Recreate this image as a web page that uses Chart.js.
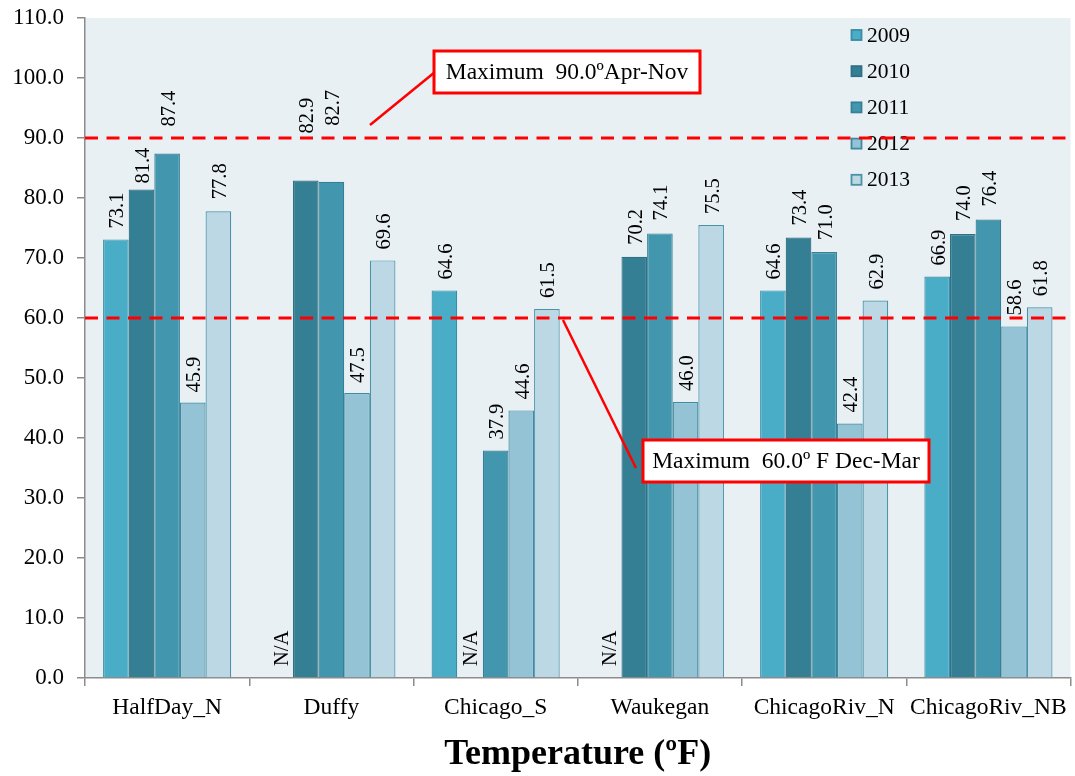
<!DOCTYPE html>
<html>
<head>
<meta charset="utf-8">
<script src="https://cdn.jsdelivr.net/npm/chart.js@4.4.1/dist/chart.umd.min.js"></script>
<style>
  html, body { margin: 0; padding: 0; background: #ffffff; }
  #wrap { width: 1075px; height: 776px; position: relative; }
</style>
</head>
<body>
<div id="wrap"><canvas id="c" width="1075" height="776"></canvas></div>
<script>
const categories = ['HalfDay_N', 'Duffy', 'Chicago_S', 'Waukegan', 'ChicagoRiv_N', 'ChicagoRiv_NB'];
const seriesNames = ['2009', '2010', '2011', '2012', '2013'];
const values2009 = [73.1, null, 64.6, null, 64.6, 66.9];
const values2010 = [81.4, 82.9, null, 70.2, 73.4, 74.0];
const values2011 = [87.4, 82.7, 37.9, 74.1, 71.0, 76.4];
const values2012 = [45.9, 47.5, 44.6, 46.0, 42.4, 58.6];
const values2013 = [77.8, 69.6, 61.5, 75.5, 62.9, 61.8];
const yTicksMin = 0, yTicksMax = 110, yTickStep = 10;
const limitLines = [90, 60];
const callout1Text = 'Maximum  90.0\u00BAApr-Nov';
const callout2Text = 'Maximum  60.0\u00BA F Dec-Mar';
const axisTitle = 'Temperature (\u00BAF)';
const missingText = 'N/A';

// extra upward label nudges (px) for the few labels moved by hand in the original
const labelNudge2009 = [0, 0, 0, 0, 0, 0];
const labelNudge2010 = [-5, 36, 0, 1, 1, 2];
const labelNudge2011 = [16, 45, 0, 2, 1, 2];
const labelNudge2012 = [-1, -1, 0, 0, 0, 0];
const labelNudge2013 = [1, 0, 0, 0, 0, 0];

const colors = ['#4aadc7', '#357f94', '#4297af', '#93c3d5', '#bcd8e4'];
const borders = ['#3a8da5', '#2f7084', '#377f94', '#3f8aa1', '#4a92a8'];
const serif = "'Liberation Serif', 'Times New Roman', serif";

const allValues = [values2009, values2010, values2011, values2012, values2013];
const allNudges = [labelNudge2009, labelNudge2010, labelNudge2011, labelNudge2012, labelNudge2013];

const bgPlugin = {
  id: 'bg',
  beforeDraw(chart) {
    const {ctx, chartArea: a} = chart;
    ctx.save();
    ctx.fillStyle = '#e8f0f4';
    ctx.fillRect(a.left, a.top, a.right - a.left, a.bottom - a.top);
    ctx.restore();
  }
};

const labelPlugin = {
  id: 'labels',
  afterDatasetsDraw(chart) {
    const {ctx} = chart;
    const y0 = chart.scales.y.getPixelForValue(0);
    ctx.save();
    ctx.fillStyle = '#000';
    ctx.font = '20.5px ' + serif;
    ctx.textAlign = 'left';
    ctx.textBaseline = 'middle';
    chart.data.datasets.forEach((ds, di) => {
      const meta = chart.getDatasetMeta(di);
      meta.data.forEach((el, i) => {
        const v = ds.data[i];
        let x = el.x + 1, y;
        let txt;
        if (v === null || v === undefined) { txt = missingText; y = y0 - 12; }
        else { txt = v.toFixed(1); y = el.y - 11 - allNudges[di][i]; }
        ctx.save();
        ctx.translate(x, y);
        ctx.rotate(-Math.PI / 2);
        ctx.fillText(txt, 0, 1);
        ctx.restore();
      });
    });
    ctx.restore();
  }
};

const overlayPlugin = {
  id: 'overlay',
  afterDraw(chart) {
    const {ctx, chartArea: a} = chart;
    const ys = chart.scales.y;
    // legend
    ctx.save();
    ctx.font = '21.5px ' + serif;
    ctx.textBaseline = 'middle';
    ctx.textAlign = 'left';
    const lx = a.left + 766, ly = a.top + 17, step = 36.2;
    chart.data.datasets.forEach((ds, i) => {
      const yy = ly + i * step;
      ctx.fillStyle = ds.backgroundColor;
      ctx.fillRect(lx, yy - 5.5, 11, 11);
      ctx.strokeStyle = ds.borderColor;
      ctx.lineWidth = 1.8;
      ctx.strokeRect(lx + 0.5, yy - 5, 10, 10);
      ctx.fillStyle = '#000';
      ctx.fillText(ds.label, lx + 16, yy + 1);
    });
    ctx.restore();
    // limit lines
    ctx.save();
    ctx.strokeStyle = '#ff0000';
    ctx.lineWidth = 3;
    ctx.setLineDash([13, 8.5]);
    limitLines.forEach(v => {
      const y = ys.getPixelForValue(v);
      ctx.beginPath();
      ctx.moveTo(a.left, y);
      ctx.lineTo(a.right + 2, y);
      ctx.stroke();
    });
    ctx.restore();
    // callouts
    const y90 = ys.getPixelForValue(90), y60 = ys.getPixelForValue(60);
    ctx.save();
    ctx.strokeStyle = '#ff0000';
    ctx.lineWidth = 2.5;
    ctx.beginPath();
    ctx.moveTo(a.left + 285, y90 - 13);
    ctx.lineTo(a.left + 350, y90 - 66);
    ctx.stroke();
    ctx.beginPath();
    ctx.moveTo(a.left + 478, y60 + 2);
    ctx.lineTo(a.left + 551, y60 + 150);
    ctx.stroke();
    const box = (x, y, w, h, t) => {
      ctx.fillStyle = '#ffffff';
      ctx.fillRect(x, y, w, h);
      ctx.lineWidth = 3;
      ctx.strokeStyle = '#ff0000';
      ctx.strokeRect(x, y, w, h);
      ctx.fillStyle = '#000';
      ctx.font = '23.5px ' + serif;
      ctx.textAlign = 'center';
      ctx.textBaseline = 'middle';
      ctx.fillText(t, x + w / 2, y + h / 2 + 1);
    };
    box(a.left + 349, y90 - 87, 266, 42, callout1Text);
    box(a.left + 558, y60 + 122, 286, 42, callout2Text);
    ctx.restore();
  }
};

const datasets = seriesNames.map((n, i) => ({
  label: n,
  data: allValues[i],
  backgroundColor: colors[i],
  borderColor: borders[i],
  borderWidth: 1.2,
  categoryPercentage: 0.78,
  barPercentage: 1.0
}));

new Chart(document.getElementById('c'), {
  type: 'bar',
  data: { labels: categories, datasets },
  options: {
    responsive: false,
    animation: false,
    devicePixelRatio: 1,
    layout: { padding: { top: 18, right: 3, left: 0, bottom: 0 } },
    plugins: { legend: { display: false }, tooltip: { enabled: false } },
    scales: {
      x: {
        grid: { display: true, drawOnChartArea: false, offset: true, tickLength: 8, color: '#8c8c8c', lineWidth: 1.5 },
        border: { display: true, color: '#8c8c8c', width: 1.5 },
        ticks: { color: '#000', font: { family: serif, size: 23.5 }, padding: 8, maxRotation: 0, autoSkip: false },
        title: { display: true, text: axisTitle, color: '#000', font: { family: serif, size: 36, weight: 'bold' }, padding: { top: 4, bottom: 0 } },
        afterFit(s) { s.height = 98; }
      },
      y: {
        min: yTicksMin, max: yTicksMax,
        grid: { display: true, drawOnChartArea: false, tickLength: 8, color: '#8c8c8c', lineWidth: 1.5 },
        border: { display: true, color: '#8c8c8c', width: 1.5 },
        ticks: { stepSize: yTickStep, color: '#000', font: { family: serif, size: 23 }, padding: 13, callback: v => Number(v).toFixed(1) },
        afterFit(s) { s.width = 85; s.paddingTop = 0; s.paddingBottom = 0; }
      }
    }
  },
  plugins: [bgPlugin, labelPlugin, overlayPlugin]
});
</script>
</body>
</html>
